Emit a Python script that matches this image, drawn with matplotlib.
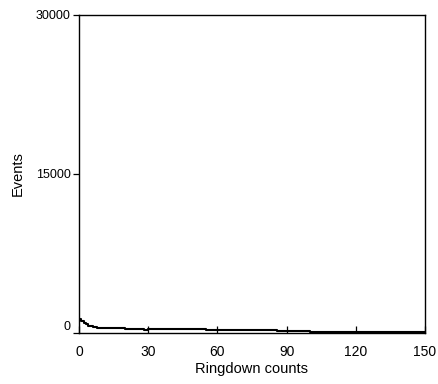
import matplotlib
matplotlib.use("Agg")
import matplotlib.pyplot as plt

# Ringdown count bin edges (left edges) and event counts
bin_starts = [0, 1, 2, 3, 4, 6, 8, 10, 15, 20, 25, 28, 30, 35, 40, 45, 50, 55, 60,
              65, 70, 75, 80, 83, 86, 90, 95, 100, 105, 110, 115, 120, 125, 130,
              135, 140, 145, 150]
events = [1300, 1150, 950, 800, 650, 550, 500, 450, 430, 410, 380, 250, 400, 380,
          360, 350, 330, 320, 300, 280, 270, 250, 230, 300, 220, 160, 140, 120,
          100, 90, 80, 70, 60, 60, 50, 50, 50, 50]

x_ticks = [0, 30, 60, 90, 120, 150]
y_ticks = [0, 15000, 30000]

plt.rcParams['font.family'] = ['Liberation Sans', 'DejaVu Sans']
fig = plt.figure(figsize=(4.39, 3.84), dpi=100)
ax = fig.add_axes([0.18, 0.133, 0.788, 0.828])
ax.step(bin_starts, events, where='post', color='black', lw=1.5)
ax.set_xlim(0, 150)
ax.set_ylim(0, 30000)
ax.set_xticks(x_ticks)
ax.set_yticks(y_ticks)
ax.tick_params(axis='x', direction='in', length=5, labelsize=10, pad=9, width=0.9)
ax.tick_params(axis='y', direction='out', length=4, labelsize=9, pad=2, width=0.9)
ax.get_yticklabels()[0].set_va('bottom')
for s in ax.spines.values():
    s.set_linewidth(1.0)
ax.set_xlabel('Ringdown counts', fontsize=10.5, labelpad=2)
ax.set_ylabel('Events', fontsize=10.5, labelpad=8)
fig.savefig('out.png', dpi=100)
